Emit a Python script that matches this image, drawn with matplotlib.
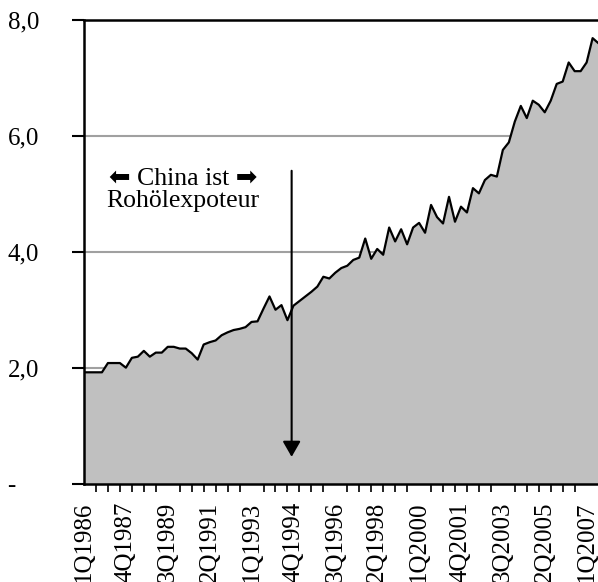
import numpy as np
import matplotlib
matplotlib.use("Agg")
import matplotlib.pyplot as plt
from matplotlib.ticker import FixedLocator

# quarterly series, 1Q1986 .. 3Q2007
values = [1.92, 1.92, 1.92, 1.92, 2.08, 2.08, 2.08, 2.00, 2.17, 2.19,
          2.29, 2.19, 2.26, 2.26, 2.36, 2.36, 2.33, 2.33, 2.25, 2.14,
          2.40, 2.44, 2.47, 2.56, 2.61, 2.65, 2.67, 2.70, 2.79, 2.80,
          3.02, 3.23, 3.00, 3.08, 2.82, 3.07, 3.15, 3.23, 3.31, 3.40,
          3.57, 3.54, 3.64, 3.72, 3.76, 3.86, 3.90, 4.23, 3.88, 4.05,
          3.95, 4.42, 4.18, 4.39, 4.13, 4.42, 4.50, 4.33, 4.81, 4.60,
          4.49, 4.95, 4.52, 4.78, 4.68, 5.10, 5.01, 5.24, 5.33, 5.30,
          5.76, 5.89, 6.25, 6.52, 6.31, 6.61, 6.54, 6.41, 6.61, 6.90,
          6.94, 7.27, 7.12, 7.12, 7.27, 7.69, 7.60]

quarters = []
for i in range(len(values)):
    quarters.append("%dQ%d" % (i % 4 + 1, 1986 + i // 4))

label_step = 7
yticks = [0, 2, 4, 6, 8]
ylabels = ["-", "2,0", "4,0", "6,0", "8,0"]
note = "\u2b05 China ist \u27a1\nRoh\u00f6lexpoteur"

plt.rcParams['font.family'] = ['Liberation Serif', 'DejaVu Sans']

fig = plt.figure(figsize=(5.98, 5.82), dpi=100)
ax = fig.add_axes([84/598, 1 - 483.5/582, 1 - 84/598 + 0.003, (483.5 - 20.2)/582])

x = np.arange(len(values))
for g in yticks[1:-1]:
    ax.axhline(g, color='#a0a0a0', lw=1.5, zorder=0)
ax.fill_between(x, values, 0, color='#c0c0c0', lw=0, zorder=1)
ax.plot(x, values, color='black', lw=1.6, zorder=2)

ax.set_xlim(0, len(values) - 1 + 0.2)
ax.set_ylim(0, 8)

ax.set_yticks(yticks)
ax.set_yticklabels(ylabels, fontsize=18, ha='left')
ax.tick_params(axis='y', length=9, width=1.5, direction='out', pad=46)

pos = list(range(0, len(values), label_step))
ax.set_xticks(pos)
ax.set_xticklabels([quarters[p] for p in pos], rotation=90, fontsize=18)
ax.tick_params(axis='x', which='major', length=0, pad=13)
ax.xaxis.set_minor_locator(FixedLocator(list(range(0, len(values), 2))))
ax.tick_params(axis='x', which='minor', length=6, width=1.2, direction='out')

for s in ['left', 'bottom', 'top']:
    ax.spines[s].set_linewidth(1.8)
ax.spines['right'].set_visible(False)

ax.text(16.6, 5.06, note, ha='center', va='center', fontsize=18.5,
        multialignment='center', linespacing=1.0)
ax.annotate('', xy=(34.7, 0.46), xytext=(34.7, 5.4),
            arrowprops=dict(arrowstyle='-|>,head_length=0.94,head_width=0.54',
                            color='black', lw=1.5, shrinkA=0, shrinkB=0,
                            mutation_scale=10))

fig.savefig('out.png', dpi=100)
